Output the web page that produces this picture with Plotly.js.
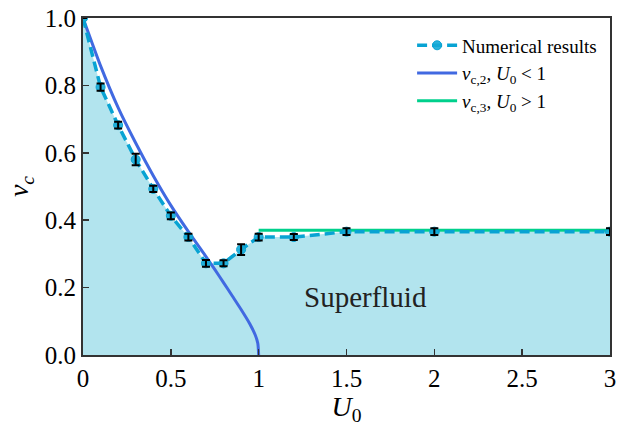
<!DOCTYPE html>
<html>
<head>
<meta charset="utf-8">
<script src="https://cdn.plot.ly/plotly-3.0.1.min.js"></script>
<style>html,body{margin:0;padding:0;background:#fff;}#plot{width:638px;height:426px;}</style>
</head>
<body>
<div id="plot"></div>
<script>
// Numerical results
const U_num = [0, 0.1, 0.2, 0.3, 0.4, 0.5, 0.6, 0.7, 0.8, 0.9, 1.0, 1.2, 1.5, 2.0, 3.0];
const v_num = [1.0, 0.795, 0.682, 0.58, 0.493, 0.413, 0.35, 0.272, 0.272, 0.313, 0.35, 0.35, 0.366, 0.366, 0.366];
const v_err = [0, 0.011, 0.01, 0.017, 0.009, 0.01, 0.01, 0.01, 0.009, 0.016, 0.01, 0.009, 0.01, 0.01, 0.01];
// v_c,2 curve (U0 < 1)
const U_c2 = [0, 0.1, 0.2, 0.3, 0.4, 0.5, 0.6, 0.7, 0.75, 0.8, 0.85, 0.9, 0.95, 0.98, 0.995, 1.0];
const v_c2 = [1.0, 0.858, 0.734, 0.629, 0.532, 0.444, 0.366, 0.292, 0.254, 0.215, 0.175, 0.135, 0.092, 0.06, 0.035, 0.0];
// v_c,3 line (U0 > 1)
const U_c3 = [1.0, 3.0];
const v_c3 = [0.37, 0.37];
// tick labels
const xTicks = [0, 0.5, 1, 1.5, 2, 2.5, 3];
const xTickText = ['0', '0.5', '1', '1.5', '2', '2.5', '3'];
const yTicks = [0, 0.2, 0.4, 0.6, 0.8, 1.0];
const yTickText = ['0.0', '0.2', '0.4', '0.6', '0.8', '1.0'];

const FONT = 'Liberation Serif, DejaVu Serif, serif';

const traces = [
  { x: U_num, y: v_num, type: 'scatter', mode: 'lines', fill: 'tozeroy',
    fillcolor: 'rgb(178,228,238)', line: {width: 0}, showlegend: false, hoverinfo: 'skip' },
  { x: U_c2, y: v_c2, type: 'scatter', mode: 'lines', name: '<i>v</i><sub>c,2</sub>, <i>U</i><sub>0</sub> &lt; 1',
    line: {color: '#4169e1', width: 3, shape: 'spline', smoothing: 0.6}, legendrank: 2 },
  { x: U_c3, y: v_c3, type: 'scatter', mode: 'lines', name: '<i>v</i><sub>c,3</sub>, <i>U</i><sub>0</sub> &gt; 1',
    line: {color: '#00d08c', width: 3}, legendrank: 3 },
  { x: U_num, y: v_num, type: 'scatter', mode: 'lines+markers', name: 'Numerical results',
    line: {color: '#08a3d3', width: 3.5, dash: '10px,5px'},
    marker: {size: 9, color: 'rgba(20,170,215,0.9)', line: {color: '#08a3d3', width: 1}},
    legendrank: 1 },
  { x: U_num, y: v_num, type: 'scatter', mode: 'markers', showlegend: false, hoverinfo: 'skip',
    marker: {size: 1, color: 'rgba(0,0,0,0)'},
    error_y: {type: 'data', array: v_err, visible: true, color: '#000', thickness: 2, width: 4} }
];

const layout = {
  width: 638, height: 426,
  margin: {l: 83, r: 28, t: 18, b: 71},
  paper_bgcolor: '#fff', plot_bgcolor: '#fff',
  font: {family: FONT, color: '#000', size: 20},
  showlegend: true,
  legend: {x: 0.985, y: 0.975, xanchor: 'right', yanchor: 'top', bgcolor: 'rgba(0,0,0,0)',
    font: {family: FONT, size: 19}, tracegroupgap: 0, itemwidth: 40},
  xaxis: {range: [0, 3], tickvals: xTicks, ticktext: xTickText, ticks: 'inside', ticklen: 6,
    tickwidth: 1.5, tickcolor: '#333', showline: true, linecolor: '#333', linewidth: 2, mirror: true,
    showgrid: false, zeroline: false, tickfont: {size: 25},
    title: {text: '<i>U</i><sub>0</sub>', font: {size: 28}, standoff: 6}},
  yaxis: {range: [0, 1], tickvals: yTicks, ticktext: yTickText, ticks: 'inside', ticklen: 6,
    tickwidth: 1.5, tickcolor: '#333', showline: true, linecolor: '#333', linewidth: 2, mirror: true,
    showgrid: false, zeroline: false, tickfont: {size: 25},
    title: {text: '<i>v</i><sub><i>c</i></sub>', font: {size: 28}, standoff: 8}},
  annotations: [{x: 1.61, y: 0.172, xref: 'x', yref: 'y', text: 'Superfluid', showarrow: false,
    font: {family: FONT, size: 29, color: '#222'}}]
};

Plotly.newPlot('plot', traces, layout, {displayModeBar: false, staticPlot: true});
</script>
</body>
</html>
